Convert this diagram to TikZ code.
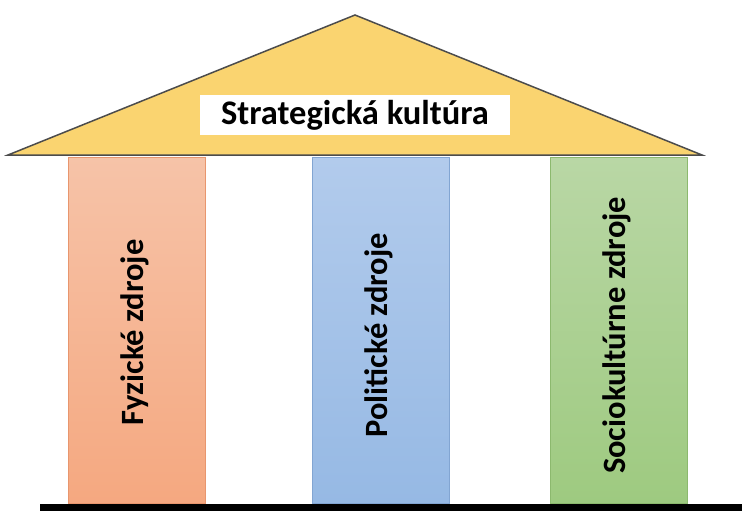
\documentclass[tikz,border=0pt]{standalone}
\usepackage{fontspec}
\setmainfont{Carlito}
\usetikzlibrary{positioning}
\definecolor{strecha}{RGB}{250,212,112}
\definecolor{oranzhore}{RGB}{246,195,168}
\definecolor{oranzdole}{RGB}{245,168,128}
\definecolor{oranzokraj}{RGB}{232,150,110}
\definecolor{modrahore}{RGB}{178,203,236}
\definecolor{modradole}{RGB}{150,185,228}
\definecolor{modraokraj}{RGB}{130,165,210}
\definecolor{zelenahore}{RGB}{185,215,165}
\definecolor{zelenadole}{RGB}{158,202,128}
\definecolor{zelenaokraj}{RGB}{140,185,110}
\begin{document}
\begin{tikzpicture}[x=1pt,y=-1pt,
   stlp/.style={minimum width=137pt, minimum height=346pt, anchor=north west, inner sep=0pt, line width=0.8pt},
   popis/.style={rotate=90, font=\bfseries\fontsize{32.5}{34}\selectfont}]
   \useasboundingbox (0,0) rectangle (742,514);
   % strecha
   \coordinate (vl) at (8,155);
   \coordinate (vrch) at (355,15);
   \coordinate (vp) at (702,155);
   \draw[fill=strecha, draw=black!70, line width=1.5pt] (vl) -- (vrch) -- (vp) -- cycle;
   \node[fill=white, minimum width=310pt, minimum height=40pt, inner sep=0pt, font=\bfseries\fontsize{34.5}{36}\selectfont] (kultura) at (355,115) {Strategická kultúra};

   % stlpy
   \node[stlp, draw=oranzokraj, top color=oranzhore, bottom color=oranzdole] (fyzicke) at (68,157) {};
   \node[stlp, draw=modraokraj, top color=modrahore, bottom color=modradole] (politicke) at (312,157) {};
   \node[stlp, draw=zelenaokraj, top color=zelenahore, bottom color=zelenadole] (socio) at (550,157) {};
   \node[popis] at ([xshift=-2pt,yshift=-2pt]fyzicke.center) {Fyzické zdroje};
   \node[popis] at ([xshift=-2pt,yshift=-5pt]politicke.center) {Politické zdroje};
   \node[popis] at ([xshift=-2pt,yshift=-5pt]socio.center) {Sociokultúrne zdroje};

   % zaklad
   \coordinate (zl) at (40,507);
   \coordinate (zp) at (742,507);
   \draw[line width=7pt] (zl) -- (zp);
\end{tikzpicture}
\end{document}
